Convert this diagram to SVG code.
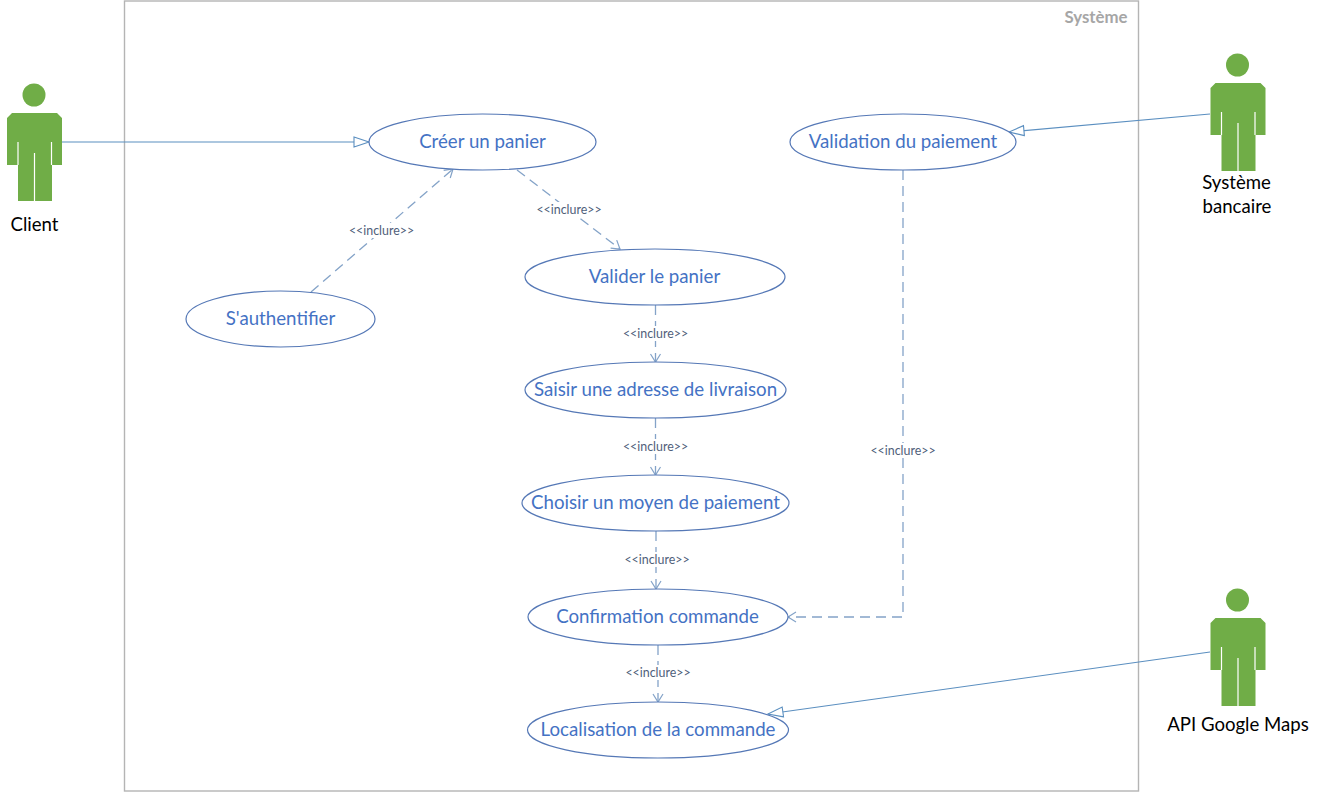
<svg xmlns="http://www.w3.org/2000/svg" width="1318" height="792" viewBox="0 0 1318 792">
<style>
text{font-family:"Lato","Carlito","Open Sans",sans-serif;text-anchor:middle}
.uc ellipse{fill:#fff;stroke:#5578b6;stroke-width:1.2}
.uc text{font-size:18.700px;fill:#4472c4}
.lbl{font-size:12.400px;fill:#50607a}
.lb{fill:#fff}
.assoc{fill:none;stroke:#5b8fc0;stroke-width:1.1}
.dash{fill:none;stroke:#84a3c8;stroke-width:1.3;stroke-dasharray:10 6}
.actor text{font-size:18.600px;fill:#000}
.body{fill:#70ad47}
.gap{stroke:#fff;stroke-width:1.2;fill:none}
</style>
<defs>
<marker id="tri" markerUnits="userSpaceOnUse" markerWidth="18" markerHeight="14" refX="16" refY="6" orient="auto"><path d="M1 1L16 6L1 11Z" fill="#fff" stroke="#5b8fc0" stroke-width="1.1"/></marker>
<marker id="open" markerUnits="userSpaceOnUse" markerWidth="12" markerHeight="14" refX="10" refY="6" orient="auto"><path d="M2 1L10 6L2 11" fill="none" stroke="#84a3c8" stroke-width="1.2"/></marker>
<g id="person">
<circle class="body" cx="34" cy="95" r="11.500"/>
<path class="body" d="M12 113H57L62 118V165H52V201H18V165H7V118Z"/>
<path class="gap" d="M18 142V165M51.500 142V165M34.500 153V201"/>
</g>
</defs>
<rect width="1318" height="792" fill="#fff"/>
<g id="system">
<rect x="124.500" y="1" width="1014" height="790" fill="#fff" stroke="#b4b4b4" stroke-width="1.4"/>
<text x="1096" y="23" style="font-size:16.800px;font-weight:700;fill:#a6a6a6">Système</text>
</g>
<g id="connectors">
<path class="assoc" d="M62 142H369" marker-end="url(#tri)"/>
<path class="assoc" d="M1210 114L1009 132" marker-end="url(#tri)"/>
<path class="assoc" d="M1210 652L768 714" marker-end="url(#tri)"/>
<path class="dash" d="M311 292L453 169" marker-end="url(#open)"/>
<path class="dash" d="M517 170L620 249" marker-end="url(#open)"/>
<path class="dash" d="M655.500 305V362" marker-end="url(#open)"/>
<path class="dash" d="M655.500 418V475" marker-end="url(#open)"/>
<path class="dash" d="M656 531V589" marker-end="url(#open)"/>
<path class="dash" d="M658 645V702" marker-end="url(#open)"/>
<path class="dash" d="M903 170V617H788" marker-end="url(#open)"/>
<g>
<rect class="lb" x="347" y="223" width="69" height="15"/><text class="lbl" x="381.500" y="235">&lt;&lt;inclure&gt;&gt;</text>
<rect class="lb" x="535" y="202" width="68" height="15"/><text class="lbl" x="569" y="214">&lt;&lt;inclure&gt;&gt;</text>
<rect class="lb" x="621" y="326" width="69" height="15"/><text class="lbl" x="655.500" y="338">&lt;&lt;inclure&gt;&gt;</text>
<rect class="lb" x="621" y="439" width="69" height="15"/><text class="lbl" x="655.500" y="451">&lt;&lt;inclure&gt;&gt;</text>
<rect class="lb" x="623" y="552" width="69" height="15"/><text class="lbl" x="657" y="564">&lt;&lt;inclure&gt;&gt;</text>
<rect class="lb" x="624" y="665" width="69" height="15"/><text class="lbl" x="658" y="677">&lt;&lt;inclure&gt;&gt;</text>
<rect class="lb" x="869" y="443" width="69" height="15"/><text class="lbl" x="903" y="455">&lt;&lt;inclure&gt;&gt;</text>
</g>
</g>
<g id="uc-creer" class="uc"><ellipse cx="482.500" cy="142" rx="113.500" ry="28"/><text x="482.500" y="148">Créer un panier</text></g>
<g id="uc-auth" class="uc"><ellipse cx="280.500" cy="319" rx="94.500" ry="28"/><text x="280.500" y="325">S'authentifier</text></g>
<g id="uc-valider" class="uc"><ellipse cx="655" cy="277" rx="130" ry="28"/><text x="654.500" y="283">Valider le panier</text></g>
<g id="uc-adresse" class="uc"><ellipse cx="655.500" cy="390" rx="130.500" ry="28"/><text x="655.500" y="396">Saisir une adresse de livraison</text></g>
<g id="uc-moyen" class="uc"><ellipse cx="655.500" cy="503" rx="133.500" ry="28"/><text x="655.500" y="509">Choisir un moyen de paiement</text></g>
<g id="uc-confirm" class="uc"><ellipse cx="658" cy="617" rx="130" ry="28"/><text x="657.500" y="623">Confirmation commande</text></g>
<g id="uc-local" class="uc"><ellipse cx="658" cy="730" rx="130.500" ry="28"/><text x="658" y="736">Localisation de la commande</text></g>
<g id="uc-paiement" class="uc"><ellipse cx="903" cy="142" rx="113" ry="28"/><text x="903" y="148">Validation du paiement</text></g>
<g id="actor-client" class="actor"><use href="#person"/><text x="34.500" y="231">Client</text></g>
<g id="actor-banque" class="actor"><use href="#person" x="1203.500" y="-30"/><text x="1236.500" y="189">Système</text><text x="1237" y="213">bancaire</text></g>
<g id="actor-google" class="actor"><use href="#person" x="1203.500" y="505"/><text x="1238" y="731">API Google Maps</text></g>
</svg>
